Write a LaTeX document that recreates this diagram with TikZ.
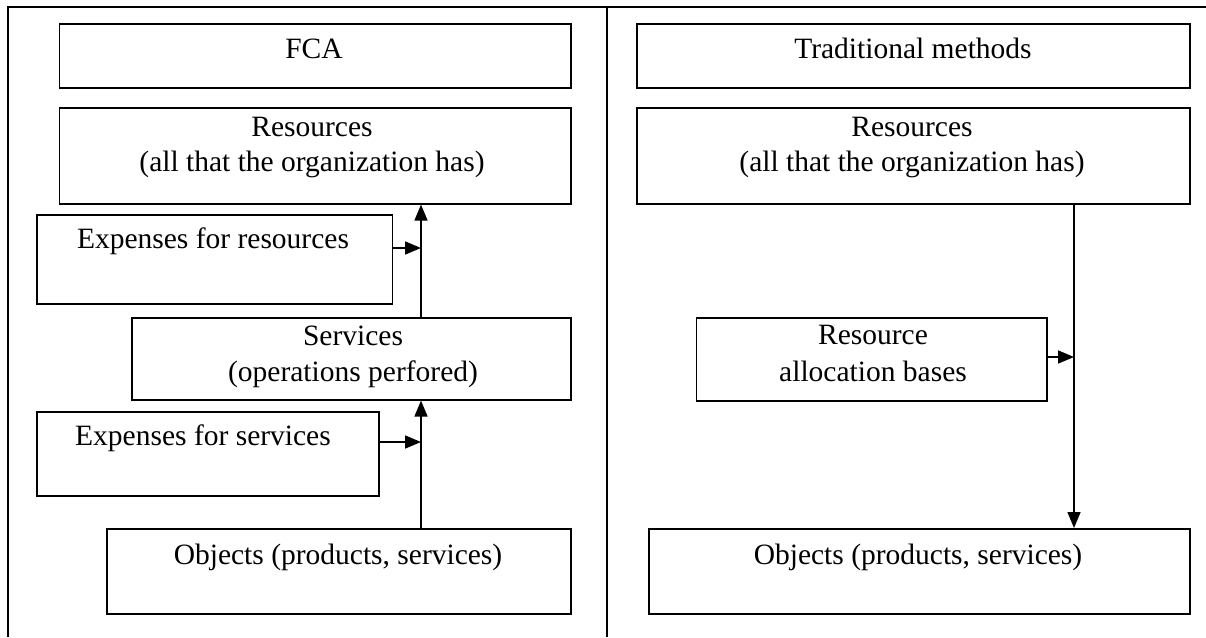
\documentclass[tikz,border=0pt]{standalone}
\usepackage{fontspec}
\setmainfont{Liberation Serif}
\usetikzlibrary{arrows.meta}
\begin{document}
\begin{tikzpicture}[x=1pt,y=-1pt,
  box/.style={draw, line width=1.6pt, inner sep=0pt, anchor=north west},
  txt/.style={inner sep=0pt, anchor=base, font=\fontsize{29.5}{35}\selectfont},
  arr/.style={line width=1.6pt, -{Triangle[length=16pt,width=13pt]}},
  frame/.style={line width=1.4pt}]
\useasboundingbox (0,0) rectangle (1206,637);
% frame
\draw[frame] (8,637) -- (8,7) -- (1206,7);
\draw[frame] (607,7) -- (607,637);
% left column
\node[box, minimum width=511.5pt, minimum height=64pt] (fca) at (58.5,23) {};
\node[txt] (fcaT) at (314,58) {FCA};
\node[box, minimum width=511.5pt, minimum height=96pt] (resL) at (58.5,107) {};
\node[txt] (resL1) at (312,136) {Resources};
\node[txt] (resL2) at (312,171) {(all that the organization has)};
\node[box, minimum width=355.5pt, minimum height=89pt] (expR) at (36,214) {};
\node[txt] (expRT) at (213,248) {Expenses for resources};
\node[box, minimum width=439pt, minimum height=82pt] (serv) at (131,317) {};
\node[txt] (serv1) at (353,345) {Services};
\node[txt] (serv2) at (353,381) {(operations perfored)};
\node[box, minimum width=342pt, minimum height=84pt] (expS) at (36,411) {};
\node[txt] (expST) at (203,445) {Expenses for services};
\node[box, minimum width=464pt, minimum height=85pt] (objL) at (106,528) {};
\node[txt] (objLT) at (338,564) {Objects (products, services)};
% right column
\node[box, minimum width=553pt, minimum height=64pt] (trad) at (636,23) {};
\node[txt] (tradT) at (913,58) {Traditional methods};
\node[box, minimum width=553pt, minimum height=96pt] (resR) at (636,107) {};
\node[txt] (resR1) at (912,136) {Resources};
\node[txt] (resR2) at (912,171) {(all that the organization has)};
\node[box, minimum width=350.5pt, minimum height=83pt] (alloc) at (695.5,317) {};
\node[txt] (alloc1) at (873,344) {Resource};
\node[txt] (alloc2) at (873,381) {allocation bases};
\node[box, minimum width=541pt, minimum height=85pt] (objR) at (648,528) {};
\node[txt] (objRT) at (918,564) {Objects (products, services)};
% junctions
\coordinate (jL) at (421,0);
\coordinate (ja) at (421,248);
\coordinate (jb) at (421,442);
\coordinate (jR) at (1074,0);
\coordinate (jc) at (1074,357);
% connectors
\draw[arr] (serv.north -| jL) -- (resL.south -| jL);
\draw[arr] (expR.east |- ja) -- (ja);
\draw[arr] (objL.north -| jL) -- (serv.south -| jL);
\draw[arr] (expS.east |- jb) -- (jb);
\draw[arr] (resR.south -| jR) -- (objR.north -| jR);
\draw[arr] (alloc.east |- jc) -- (jc);
\end{tikzpicture}
\end{document}
